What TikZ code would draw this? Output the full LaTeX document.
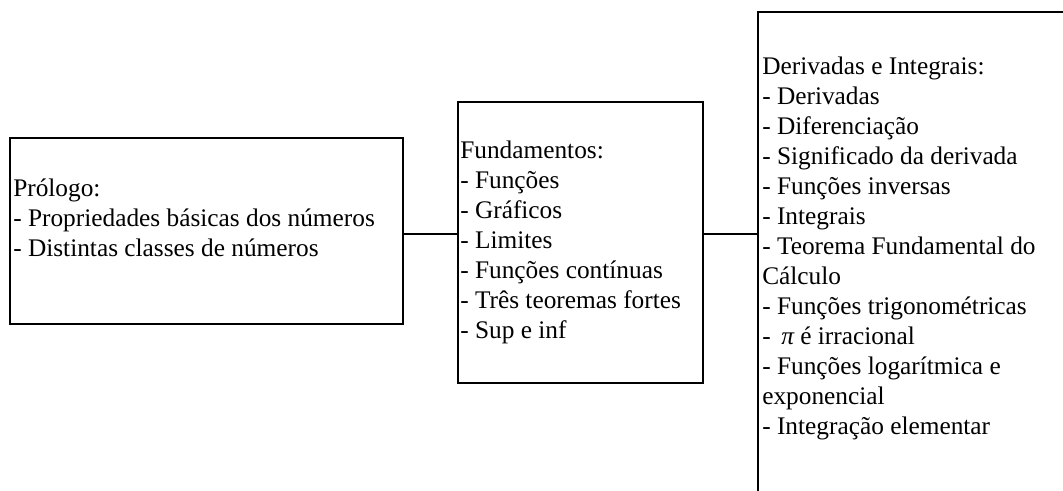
\documentclass[tikz,border=0pt]{standalone}
\usepackage{fontspec}
\setmainfont{Liberation Serif}
\tikzset{
  frame/.style={draw, line width=1.2pt, anchor=north west, inner sep=0pt},
  txt/.style={inner sep=0pt, align=left, anchor=north west,
    font=\fontsize{19}{22.5}\selectfont},
  link/.style={line width=1.1pt}
}
\begin{document}
\begin{tikzpicture}[x=0.75pt,y=-0.75pt]
\useasboundingbox (0,0) rectangle (1063,490);
\clip (0,0) rectangle (1063,490);
\node[frame, minimum width=294.75pt, minimum height=139.5pt] (b1) at (9,137) {};
\node[txt] (t1) at (13,179)
  {Prólogo:\\- Propriedades básicas dos números\\- Distintas classes de números};
\node[frame, minimum width=183.75pt, minimum height=210.75pt] (b2) at (457,101) {};
\node[txt] (t2) at (460,141)
  {Fundamentos:\\- Funções\\- Gráficos\\- Limites\\- Funções contínuas\\- Três teoremas fortes\\- Sup e inf};
\node[frame, minimum width=330pt, minimum height=380pt] (b3) at (757,11) {};
\node[txt] (t3) at (762,57)
  {Derivadas e Integrais:\\- Derivadas\\- Diferenciação\\- Significado da derivada\\- Funções inversas\\- Integrais\\- Teorema Fundamental do\\Cálculo\\- Funções trigonométricas\\-\ \,{\itshape π} é irracional\\- Funções logarítmica e\\exponencial\\- Integração elementar};
\draw[link] (b1.east |- 0,234) -- (b2.west |- 0,234);
\draw[link] (b2.east |- 0,234) -- (b3.west |- 0,234);
\end{tikzpicture}
\end{document}
